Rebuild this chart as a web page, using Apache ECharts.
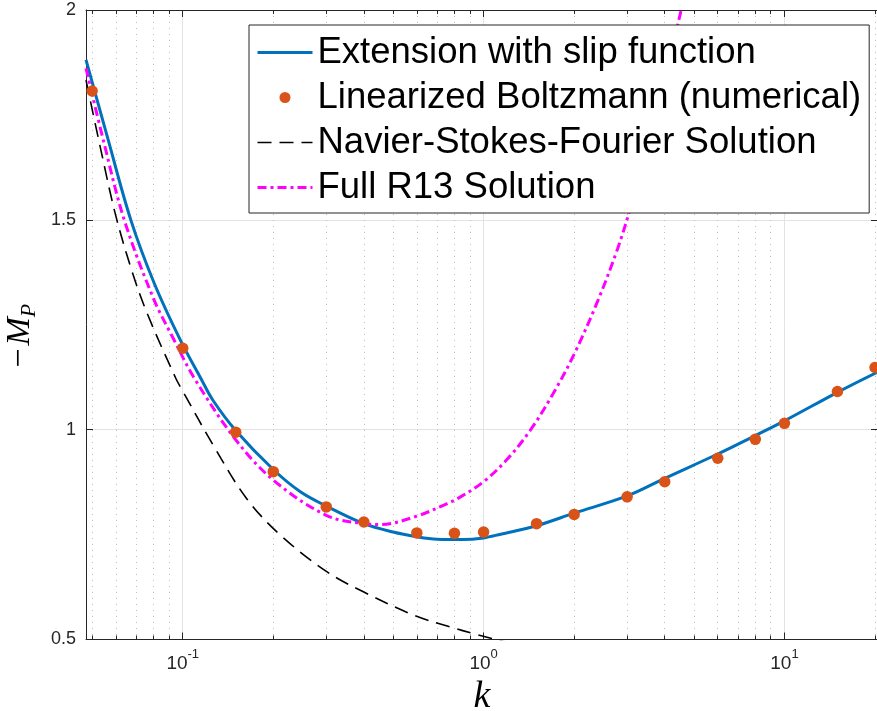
<!DOCTYPE html>
<html><head><meta charset="utf-8">
<script src="https://cdn.jsdelivr.net/npm/echarts@6/dist/echarts.min.js"></script>
<style>html,body{margin:0;padding:0;background:#fff}#c{width:877px;height:711px}</style>
</head><body><div id="c"></div>
<script>
// ---- data (k values and -M_P values) ----
const seriesNames = ['Extension with slip function', 'Linearized Boltzmann (numerical)', 'Navier-Stokes-Fourier Solution', 'Full R13 Solution'];

const slipK = [0.0477, 0.0562, 0.0672, 0.0804, 0.0986, 0.1149, 0.126, 0.15, 0.2, 0.246, 0.3, 0.4, 0.5, 0.6, 0.7, 0.85, 1.0, 1.14, 1.5, 2, 3, 4, 6, 8, 10, 15, 20.5];
const slipV = [1.881, 1.697, 1.500, 1.349, 1.211, 1.122, 1.070, 0.998, 0.905, 0.852, 0.818, 0.776, 0.756, 0.745, 0.739, 0.738, 0.742, 0.751, 0.771, 0.801, 0.842, 0.884, 0.942, 0.986, 1.021, 1.089, 1.138];

const lbK = [0.05, 0.1, 0.15, 0.2, 0.3, 0.4, 0.6, 0.8, 1.0, 1.5, 2, 3, 4, 6, 8, 10, 15, 20];
const lbV = [1.807, 1.194, 0.994, 0.900, 0.816, 0.780, 0.754, 0.753, 0.756, 0.776, 0.798, 0.840, 0.876, 0.932, 0.977, 1.015, 1.091, 1.148];

const nsfK = [0.0477, 0.0534, 0.0599, 0.068, 0.0764, 0.0949, 0.1, 0.127, 0.163, 0.211, 0.302, 0.4, 0.586, 0.757, 0.96, 1.25];
const nsfV = [1.833, 1.668, 1.510, 1.375, 1.275, 1.122, 1.092, 0.960, 0.836, 0.749, 0.661, 0.613, 0.558, 0.532, 0.511, 0.490];

const r13K = [0.0477, 0.0548, 0.0639, 0.0799, 0.0937, 0.1094, 0.15, 0.2, 0.3, 0.4, 0.454, 0.6, 0.757, 0.83, 1.0, 1.2, 1.434, 1.7, 2.0, 2.39, 2.785, 3.08, 3.5, 4.0, 4.52, 4.8];
const r13V = [1.861, 1.682, 1.500, 1.313, 1.213, 1.122, 0.976, 0.880, 0.796, 0.776, 0.774, 0.794, 0.824, 0.838, 0.876, 0.930, 1.000, 1.085, 1.180, 1.305, 1.430, 1.530, 1.680, 1.840, 1.995, 2.080];

// axis ticks
const kMin = 0.0477, kMax = 20.46;
const majorK = [0.1, 1, 10];
const majorExp = ['-1', '0', '1'];
const minorK = [0.05, 0.06, 0.07, 0.08, 0.09, 0.2, 0.3, 0.4, 0.5, 0.6, 0.7, 0.8, 0.9, 2, 3, 4, 5, 6, 7, 8, 9, 20];
const yTicks = [0.5, 1, 1.5, 2];

// ---- build ----
const L = Math.log10;
const pairs = (ks, vs) => ks.map((k, i) => [L(k), vs[i]]);
const axisColor = '#262626';
const xMin = L(kMin), xMax = L(kMax);

const xBase = {type: 'value', min: xMin, max: xMax, gridIndex: 0};
const expOf = v => { const i = majorK.findIndex(k => Math.abs(L(k) - v) < 1e-6); return i >= 0 ? majorExp[i] : ''; };
const noSym = {opacity: 0};

const option = {
  backgroundColor: '#fff',
  animation: false,
  grid: {left: 86, right: -1, top: 10, bottom: 71.5, containLabel: false, outerBoundsMode: 'none'},
  xAxis: [
    Object.assign({}, xBase, {
      position: 'bottom',
      axisLine: {show: true, onZero: false, lineStyle: {color: axisColor, width: 1}},
      axisTick: {show: true, inside: true, length: 7, customValues: majorK.map(L), lineStyle: {color: axisColor}},
      axisLabel: {show: true, customValues: majorK.map(L), margin: 8,
        formatter: v => '{b|10}{s|' + expOf(v) + '}',
        rich: {
          b: {fontSize: 19, fontFamily: 'Liberation Sans', color: axisColor, lineHeight: 26, verticalAlign: 'bottom'},
          s: {fontSize: 13, fontFamily: 'Liberation Sans', color: axisColor, lineHeight: 14, verticalAlign: 'top'}
        }},
      splitLine: {show: true, lineStyle: {color: '#e3e3e3', width: 1}},
      name: 'k', nameLocation: 'middle', nameGap: 37,
      nameTextStyle: {fontFamily: 'Liberation Serif', fontStyle: 'italic', fontSize: 38, color: '#000'}
    }),
    Object.assign({}, xBase, {
      position: 'bottom',
      axisLine: {show: false, onZero: false},
      axisTick: {show: true, inside: true, length: 4, customValues: minorK.map(L), lineStyle: {color: axisColor}},
      axisLabel: {show: false},
      splitLine: {show: true, lineStyle: {color: '#bdbdbd', width: 1, type: [1, 5]}}
    }),
    Object.assign({}, xBase, {
      position: 'top',
      axisLine: {show: true, onZero: false, lineStyle: {color: axisColor, width: 1}},
      axisTick: {show: true, inside: true, length: 7, customValues: majorK.map(L), lineStyle: {color: axisColor}},
      axisLabel: {show: false},
      splitLine: {show: false}
    }),
    Object.assign({}, xBase, {
      position: 'top',
      axisLine: {show: false, onZero: false},
      axisTick: {show: true, inside: true, length: 4, customValues: minorK.map(L), lineStyle: {color: axisColor}},
      axisLabel: {show: false},
      splitLine: {show: false}
    })
  ],
  yAxis: [
    {
      type: 'value', position: 'left', min: 0.5, max: 2, interval: 0.5,
      axisLine: {show: true, onZero: false, lineStyle: {color: axisColor, width: 1}},
      axisTick: {show: true, inside: true, length: 7, lineStyle: {color: axisColor}},
      axisLabel: {show: true, margin: 10, fontSize: 18, fontFamily: 'Liberation Sans', color: axisColor,
        customValues: yTicks},
      splitLine: {show: true, lineStyle: {color: '#e3e3e3', width: 1}},
      name: '{a|\u2212}{b|M}{c|P}', nameLocation: 'middle', nameRotate: 90, nameGap: 46,
      nameTextStyle: {
        padding: [0, 22, 0, 0],
        rich: {
          a: {fontFamily: 'Liberation Serif', fontSize: 34, color: '#000', lineHeight: 40, verticalAlign: 'middle', padding: [0, 3, 0, 0]},
          b: {fontFamily: 'Liberation Serif', fontStyle: 'italic', fontSize: 34, color: '#000', lineHeight: 40, verticalAlign: 'middle'},
          c: {fontFamily: 'Liberation Serif', fontStyle: 'italic', fontSize: 22, color: '#000', lineHeight: 28, verticalAlign: 'bottom'}
        }
      }
    },
    {
      type: 'value', position: 'right', min: 0.5, max: 2, interval: 0.5,
      axisLine: {show: true, onZero: false, lineStyle: {color: axisColor, width: 1}},
      axisTick: {show: true, inside: true, length: 7, lineStyle: {color: axisColor}},
      axisLabel: {show: false},
      splitLine: {show: false}
    }
  ],
  legend: {
    orient: 'vertical', left: 249, top: 25,
    backgroundColor: '#ffffff', borderColor: axisColor, borderWidth: 1, borderRadius: 0,
    padding: [9, 8, 7, 7],
    itemWidth: 55, itemHeight: 11, itemGap: 8,
    textStyle: {fontSize: 36.5, fontFamily: 'Liberation Sans', color: '#000'},
    lineStyle: {width: 'inherit'},
    data: [
      {name: seriesNames[0], itemStyle: noSym},
      {name: seriesNames[1]},
      {name: seriesNames[2], itemStyle: noSym},
      {name: seriesNames[3], itemStyle: noSym}
    ],
    selectedMode: false
  },
  series: [
    {name: seriesNames[0], type: 'line', data: pairs(slipK, slipV), symbol: 'none', smooth: 0.35,
      lineStyle: {color: '#0072BD', width: 3}, itemStyle: {color: '#0072BD'}, z: 2},
    {name: seriesNames[1], type: 'scatter', data: pairs(lbK, lbV), symbol: 'circle', symbolSize: 11.5,
      itemStyle: {color: '#D95319', opacity: 1}, z: 3},
    {name: seriesNames[2], type: 'line', data: pairs(nsfK, nsfV), symbol: 'none', smooth: 0.35,
      lineStyle: {color: '#000000', width: 1.6, type: [14, 8]}, itemStyle: {color: '#000'}, z: 3},
    {name: seriesNames[3], type: 'line', data: pairs(r13K, r13V), symbol: 'none', smooth: 0.35,
      lineStyle: {color: '#FF00FF', width: 3, type: [9, 4, 3, 4]}, itemStyle: {color: '#FF00FF'}, z: 3}
  ]
};
const chart = echarts.init(document.getElementById('c'), null, {renderer: 'canvas'});
chart.setOption(option);
</script>
</body></html>
